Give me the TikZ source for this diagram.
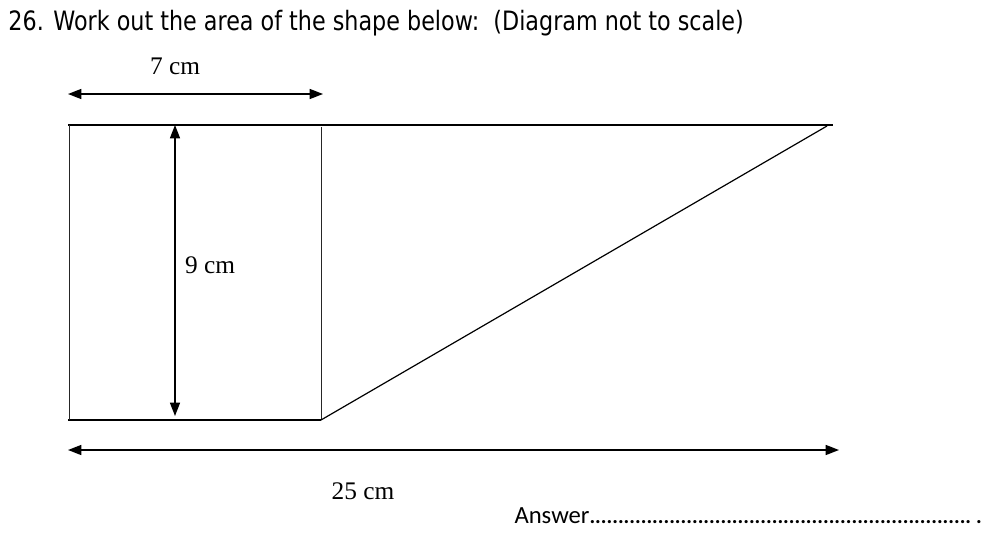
\documentclass[tikz,border=0pt]{standalone}
\usepackage{fontspec}
\setmainfont{Liberation Serif}
\newfontfamily\titlefont[FakeStretch=0.835]{DejaVu Sans}
\newfontfamily\answerfont{Carlito}
\usetikzlibrary{arrows.meta}

\tikzset{every picture/.style={line width=0.75pt}}
\tikzset{
  dimarrow/.style={line width=1.1pt,{Triangle[length=10pt,width=7.5pt]}-{Triangle[length=10pt,width=7.5pt]}},
  thickside/.style={line width=1.5pt},
  thinside/.style={line width=0.6pt,color=black!85},
  lbl/.style={font=\fontsize{19}{22}\selectfont}
}

\begin{document}
\begin{tikzpicture}[x=0.75pt,y=0.75pt,yscale=-1,xscale=1]
\useasboundingbox (0,0) rectangle (1001,536);

%Corners of the shape
\coordinate (tl) at (68,125);
\coordinate (tr) at (833,125);
\coordinate (bl) at (68,420);
\coordinate (bm) at (321,420);
\coordinate (tm) at (321,127);

%Straight Lines [top]
\draw [thickside]   (tl) -- (tr) ;
%Straight Lines [bottom]
\draw [thickside]   (bl) -- (bm) ;
%Straight Lines [left side]
\draw [thinside]   ([xshift=1]tl) -- ([xshift=1]bl) ;
%Straight Lines [middle side]
\draw [thinside]   (tm) -- (bm) ;
%Straight Lines [slope]
\draw [line width=0.9pt]   (bm) -- (827,126) ;

%Dimension arrows
\coordinate (wl) at (68,94);
\coordinate (wr) at (323,94);
\coordinate (ht) at (175,125);
\coordinate (hb) at (175,416);
\coordinate (ll) at (68,450);
\coordinate (lr) at (839,450);
\draw [dimarrow]   (wl) -- (wr) ;
\draw [dimarrow]   (ht) -- (hb) ;
\draw [dimarrow]   (ll) -- (lr) ;

% Text Node
\node (title) [anchor=base west,inner sep=0pt,font=\titlefont\fontsize{20}{24}\selectfont] at (8,30) {26. Work out the area of the shape below:\ \ (Diagram not to scale)};
% Text Node
\node (wlbl) [lbl] at (175,66) {7 cm};
% Text Node
\node (hlbl) [lbl] at (210,265) {9 cm};
% Text Node
\node (llbl) [lbl] at (363,491) {25 cm};
% Text Node
\node (answer) [anchor=base west,inner sep=0pt,font=\answerfont\fontsize{18.5}{22}\selectfont] at (514,523) {Answer{\fontsize{16}{18}\selectfont\bfseries...................................................................\ .}};

\end{tikzpicture}
\end{document}
